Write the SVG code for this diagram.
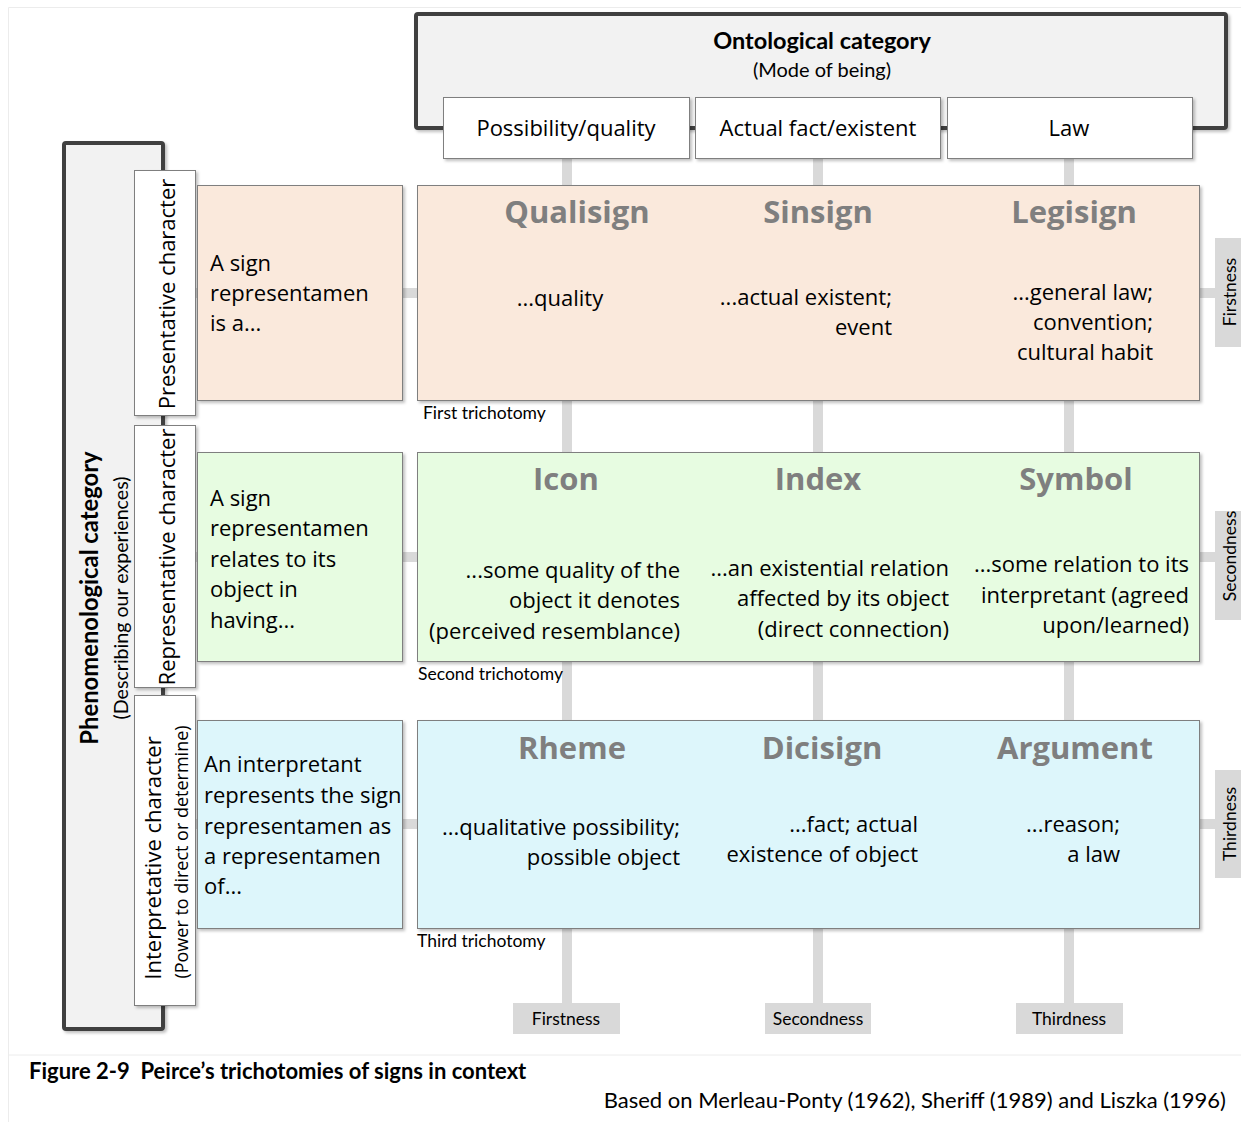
<svg xmlns="http://www.w3.org/2000/svg" width="1241" height="1122" viewBox="0 0 1241 1122">
  <defs>
    <filter id="shadow" x="-5%" y="-5%" width="115%" height="115%">
      <feDropShadow dx="2" dy="2" stdDeviation="1.5" flood-color="#000" flood-opacity="0.25"/>
    </filter>
    <style>
      text { font-family: Lato, "Liberation Sans", sans-serif; fill: #000; }
      .body { font-family: "Open Sans", "Noto Sans", sans-serif; font-size: 22px; }
      .title { font-family: "Open Sans", "Noto Sans", sans-serif; font-size: 31px; font-weight: bold; fill: #7f7f7f; text-anchor: middle; }
      .small { font-size: 17.5px; }
      .mid { text-anchor: middle; }
      .end { text-anchor: end; }
      .rot { text-anchor: middle; dominant-baseline: central; }
      .bracket { fill: #f2f2f2; stroke: #404040; stroke-width: 4; filter: url(#shadow); }
      .plain { fill: #fff; stroke: #7f7f7f; stroke-width: 1; filter: url(#shadow); }
      .box { stroke: #7f7f7f; stroke-width: 1; filter: url(#shadow); }
      .first { fill: #fae9dc; }
      .second { fill: #e7fce1; }
      .third { fill: #ddf6fb; }
      .tag { fill: #d9d9d9; }
      .conn { stroke: #d9d9d9; stroke-width: 10; fill: none; }
    </style>
  </defs>

  <rect width="1241" height="1122" fill="#fff"/>
  <!-- figure frame -->
  <path d="M1250 7.5 H8.5 V1055 H1250 M8.5 1055 V1122" fill="none" stroke="#ececec" stroke-width="1"/>

  <!-- grey connector lines -->
  <g id="connectors">
    <line class="conn" x1="567" y1="159" x2="567" y2="1004"/>
    <line class="conn" x1="818" y1="159" x2="818" y2="1004"/>
    <line class="conn" x1="1069" y1="159" x2="1069" y2="1004"/>
    <line class="conn" x1="196" y1="293" x2="1216" y2="293"/>
    <line class="conn" x1="196" y1="557" x2="1216" y2="557"/>
    <line class="conn" x1="196" y1="824" x2="1216" y2="824"/>
  </g>

  <!-- ontological category header -->
  <g id="ontological">
    <rect class="bracket" x="416" y="14" width="810" height="114" rx="2"/>
    <text x="822" y="49" class="mid" font-size="23.5" font-weight="bold">Ontological category</text>
    <text x="822" y="77" class="mid" font-size="20">(Mode of being)</text>
  </g>
  <g id="possibility">
    <rect class="plain" x="443.5" y="97.5" width="246" height="61"/>
    <text x="566" y="136" class="body mid">Possibility/quality</text>
  </g>
  <g id="actual">
    <rect class="plain" x="695.5" y="97.5" width="245" height="61"/>
    <text x="818" y="136" class="body mid">Actual fact/existent</text>
  </g>
  <g id="law">
    <rect class="plain" x="947.5" y="97.5" width="245" height="61"/>
    <text x="1069" y="136" class="body mid">Law</text>
  </g>

  <!-- phenomenological category bracket -->
  <g id="phenomenological">
    <rect class="bracket" x="64" y="143" width="99" height="886" rx="2"/>
    <text class="rot" transform="translate(89 598) rotate(-90)" font-size="23.8" font-weight="bold">Phenomenological category</text>
    <text class="rot" transform="translate(120 598) rotate(-90)" font-size="19.6">(Describing our experiences)</text>
  </g>
  <g id="presentative">
    <rect class="plain" x="134.5" y="170.5" width="61" height="245"/>
    <text class="rot body" transform="translate(166 294) rotate(-90)">Presentative character</text>
  </g>
  <g id="representative">
    <rect class="plain" x="134.5" y="425.5" width="61" height="262"/>
    <text class="rot body" transform="translate(166 557) rotate(-90)">Representative character</text>
  </g>
  <g id="interpretative">
    <rect class="plain" x="134.5" y="695.5" width="61" height="310"/>
    <text class="rot body" transform="translate(152 858) rotate(-90)">Interpretative character</text>
    <text class="rot body" transform="translate(181 852) rotate(-90)" style="font-size:18px">(Power to direct or determine)</text>
  </g>

  <!-- row descriptions -->
  <g id="row1-desc">
    <rect class="box first" x="197.5" y="185.5" width="205" height="215"/>
    <text class="body" x="210" y="271">A sign</text>
    <text class="body" x="210" y="301">representamen</text>
    <text class="body" x="210" y="331">is a...</text>
  </g>
  <g id="row2-desc">
    <rect class="box second" x="197.5" y="452.5" width="205" height="209"/>
    <text class="body" x="210" y="506">A sign</text>
    <text class="body" x="210" y="536">representamen</text>
    <text class="body" x="210" y="567">relates to its</text>
    <text class="body" x="210" y="597">object in</text>
    <text class="body" x="210" y="628">having...</text>
  </g>
  <g id="row3-desc">
    <rect class="box third" x="197.5" y="720.5" width="205" height="208"/>
    <text class="body" x="204" y="772">An interpretant</text>
    <text class="body" x="204" y="803">represents the sign</text>
    <text class="body" x="204" y="834">representamen as</text>
    <text class="body" x="204" y="864">a representamen</text>
    <text class="body" x="204" y="894">of...</text>
  </g>

  <!-- first trichotomy -->
  <g id="first-trichotomy">
    <rect class="box first" x="417.5" y="185.5" width="782" height="215"/>
    <text class="title" x="577" y="223">Qualisign</text>
    <text class="title" x="818" y="223">Sinsign</text>
    <text class="title" x="1074" y="223">Legisign</text>
    <text class="body mid" x="560" y="306">...quality</text>
    <text class="body end" x="892" y="305">...actual existent;</text>
    <text class="body end" x="892" y="335">event</text>
    <text class="body end" x="1153" y="300">...general law;</text>
    <text class="body end" x="1153" y="330">convention;</text>
    <text class="body end" x="1153" y="360">cultural habit</text>
    <text class="small" x="423" y="419">First trichotomy</text>
  </g>

  <!-- second trichotomy -->
  <g id="second-trichotomy">
    <rect class="box second" x="417.5" y="452.5" width="782" height="209"/>
    <text class="title" x="566" y="490">Icon</text>
    <text class="title" x="818" y="490">Index</text>
    <text class="title" x="1076" y="490">Symbol</text>
    <text class="body end" x="680" y="578">...some quality of the</text>
    <text class="body end" x="680" y="608">object it denotes</text>
    <text class="body end" x="680" y="639">(perceived resemblance)</text>
    <text class="body end" x="949" y="576">...an existential relation</text>
    <text class="body end" x="949" y="606">affected by its object</text>
    <text class="body end" x="949" y="637">(direct connection)</text>
    <text class="body end" x="1189" y="572">...some relation to its</text>
    <text class="body end" x="1189" y="603">interpretant (agreed</text>
    <text class="body end" x="1189" y="633">upon/learned)</text>
    <text class="small" x="418" y="680">Second trichotomy</text>
  </g>

  <!-- third trichotomy -->
  <g id="third-trichotomy">
    <rect class="box third" x="417.5" y="720.5" width="782" height="208"/>
    <text class="title" x="572" y="759">Rheme</text>
    <text class="title" x="822" y="759">Dicisign</text>
    <text class="title" x="1075" y="759">Argument</text>
    <text class="body end" x="680" y="835">...qualitative possibility;</text>
    <text class="body end" x="680" y="865">possible object</text>
    <text class="body end" x="918" y="832">...fact; actual</text>
    <text class="body end" x="918" y="862">existence of object</text>
    <text class="body end" x="1120" y="832">...reason;</text>
    <text class="body end" x="1120" y="862">a law</text>
    <text class="small" x="417" y="947">Third trichotomy</text>
  </g>

  <!-- category tags on the right -->
  <g id="tag-right-firstness">
    <rect class="tag" x="1215" y="238" width="30" height="109"/>
    <text class="rot small" transform="translate(1229 292) rotate(-90)">Firstness</text>
  </g>
  <g id="tag-right-secondness">
    <rect class="tag" x="1215" y="511" width="30" height="109"/>
    <text class="rot small" transform="translate(1229 556) rotate(-90)">Secondness</text>
  </g>
  <g id="tag-right-thirdness">
    <rect class="tag" x="1215" y="770" width="30" height="108"/>
    <text class="rot small" transform="translate(1229 824) rotate(-90)">Thirdness</text>
  </g>

  <!-- category tags at the bottom -->
  <g id="tag-bottom-firstness">
    <rect class="tag" x="513" y="1003" width="107" height="31"/>
    <text class="small mid" x="566" y="1025">Firstness</text>
  </g>
  <g id="tag-bottom-secondness">
    <rect class="tag" x="765" y="1003" width="106" height="31"/>
    <text class="small mid" x="818" y="1025">Secondness</text>
  </g>
  <g id="tag-bottom-thirdness">
    <rect class="tag" x="1016" y="1003" width="107" height="31"/>
    <text class="small mid" x="1069" y="1025">Thirdness</text>
  </g>

  <!-- caption -->
  <text x="29" y="1079" font-size="22" font-weight="bold" xml:space="preserve">Figure 2-9  Peirce’s trichotomies of signs in context</text>
  <text x="1226" y="1108" font-size="22" class="end">Based on Merleau-Ponty (1962), Sheriff (1989) and Liszka (1996)</text>
</svg>
